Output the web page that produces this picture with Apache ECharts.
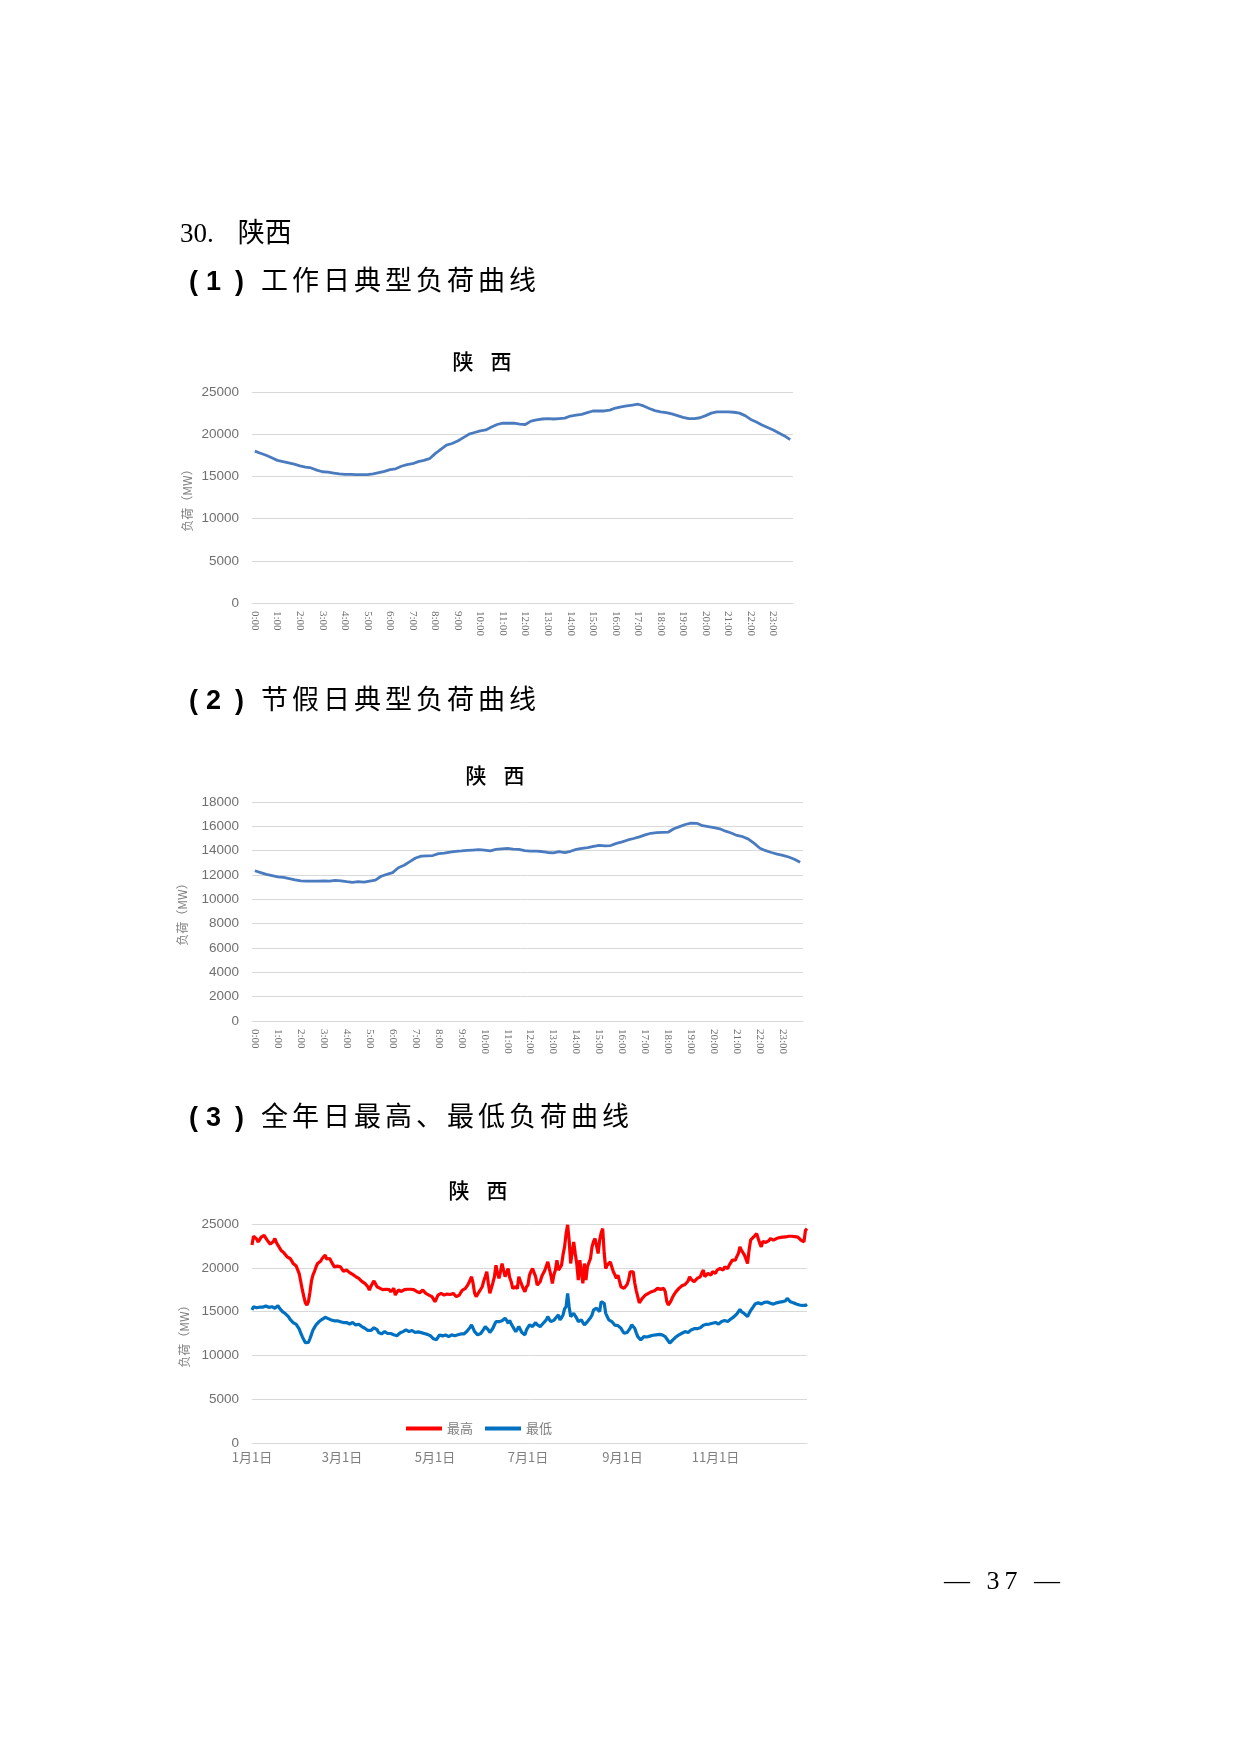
<!DOCTYPE html>
<html lang="zh">
<head>
<meta charset="UTF-8">
<title>陕西 负荷曲线</title>
<script src="https://cdn.jsdelivr.net/npm/echarts@6/dist/echarts.min.js"></script>
<style>
  html, body { margin: 0; padding: 0; background: #fff; }
  #page { position: relative; width: 1240px; height: 1754px; overflow: hidden; }
  #main { position: absolute; left: 0; top: 0; width: 1240px; height: 1754px; }
  .txt { position: absolute; white-space: nowrap; color: #000; z-index: 2; }
  .h1 { font-family: "Liberation Serif", "Noto Sans CJK SC", serif; font-size: 27px; line-height: 27px; }
  .h2 { font-family: "Noto Sans CJK SC", sans-serif; font-size: 27px; line-height: 27px; letter-spacing: 4px; }
  .h2 .no { font-family: "Liberation Sans", sans-serif; font-weight: bold; letter-spacing: 0; }
  .pg { font-family: "Liberation Serif", serif; font-size: 26px; line-height: 26px; letter-spacing: 5px; }
</style>
</head>
<body>
<div id="page">
  <div id="main"></div>
  <div class="txt h1" style="left:180px; top:220px;">30.<span style="margin-left:24px;">陕西</span></div>
  <div class="txt h2" style="left:189px; top:265px;"><span class="no" style="margin-right:8px">(</span><span class="no" style="margin-right:14px">1</span><span class="no" style="margin-right:17px">)</span>工作日典型负荷曲线</div>
  <div class="txt h2" style="left:189px; top:684px;"><span class="no" style="margin-right:8px">(</span><span class="no" style="margin-right:14px">2</span><span class="no" style="margin-right:17px">)</span>节假日典型负荷曲线</div>
  <div class="txt h2" style="left:189px; top:1101px;"><span class="no" style="margin-right:8px">(</span><span class="no" style="margin-right:14px">3</span><span class="no" style="margin-right:17px">)</span>全年日最高、最低负荷曲线</div>
  <div class="txt pg" style="left:944px; top:1568px;">— 37 —</div>
</div>
<script type="text/javascript">
    // 工作日典型负荷 (96 points, 15 min)
    var workdayLoad = [
        18000, 17750, 17500, 17200, 16900, 16750, 16600, 16450, 16250, 16100,
        16000, 15750, 15550, 15500, 15400, 15300, 15250, 15250, 15200, 15200,
        15200, 15300, 15450, 15600, 15800, 15900, 16200, 16400, 16500, 16750,
        16900, 17100, 17700, 18200, 18700, 18900, 19200, 19600, 20000, 20200,
        20400, 20500, 20850, 21150, 21300, 21300, 21300, 21200, 21150, 21550,
        21700, 21800, 21850, 21800, 21850, 21900, 22150, 22250, 22350, 22550,
        22750, 22750, 22750, 22850, 23100, 23250, 23350, 23450, 23550, 23350,
        23050, 22800, 22650, 22550, 22400, 22200, 22000, 21850, 21850, 21950,
        22200, 22500, 22650, 22650, 22650, 22600, 22500, 22200, 21750, 21450,
        21100, 20800, 20500, 20150, 19800, 19350
    ];

    // 节假日典型负荷 (96 points, 15 min)
    var holidayLoad = [
        12350, 12200, 12050, 11950, 11850, 11800, 11700, 11600, 11520, 11500,
        11500, 11500, 11520, 11500, 11550, 11520, 11450, 11400, 11450, 11420,
        11500, 11580, 11900, 12050, 12200, 12600, 12800, 13100, 13400, 13550,
        13580, 13600, 13750, 13800, 13880, 13950, 13980, 14020, 14050, 14080,
        14050, 13980, 14100, 14150, 14180, 14130, 14100, 14000, 13970, 13960,
        13930, 13850, 13820, 13920, 13840, 13950, 14100, 14180, 14250, 14350,
        14430, 14400, 14420, 14600, 14720, 14880, 15000, 15130, 15300, 15430,
        15480, 15500, 15520, 15800, 15980, 16150, 16270, 16250, 16050, 15980,
        15900, 15800, 15600, 15450, 15250, 15150, 14950, 14600, 14200, 14000,
        13850, 13720, 13620, 13480, 13300, 13050
    ];

    // 全年日最高负荷 (365 days)
    var dailyMax = [
        22600, 23600, 23700, 23300, 22950, 23200, 23500, 23600, 23700, 23400,
        23150, 23000, 22700, 22580, 23000, 23340, 22900, 22580, 22300, 22010,
        21850, 21700, 21500, 21250, 21150, 21060, 20800, 20490, 20350, 20200,
        20110, 19300, 18400, 17500, 16700, 16000, 15750, 16130, 17200, 18500,
        19200, 19600, 20100, 20490, 20600, 20750, 21060, 21200, 21440, 21000,
        20870, 21060, 20700, 20490, 20100, 19920, 20190, 20150, 20110, 19900,
        19600, 19550, 19740, 19600, 19450, 19360, 19250, 19170, 19000, 18850,
        18790, 18600, 18450, 18300, 18220, 18000, 17840, 17460, 17900, 18220,
        18500, 18600, 17840, 17750, 17650, 17600, 17500, 17460, 17550, 17650,
        17500, 17270, 17450, 17650, 16890, 17200, 17460, 17400, 17300, 17270,
        17500, 17650, 17550, 17460, 17550, 17650, 17500, 17380, 17300, 17200,
        17160, 17300, 17460, 17250, 17080, 17000, 16890, 16800, 16700, 16500,
        16130, 16500, 16890, 17080, 17080, 16890, 16890, 17080, 17000, 16890,
        16950, 17050, 17080, 16900, 16700, 16800, 16890, 17200, 17460, 17550,
        17650, 17900, 18200, 18410, 18980, 18220, 17100, 16700, 17000, 17270,
        17550, 17840, 18500, 19000, 19550, 18220, 17080, 17270, 18300, 18980,
        20300, 19360, 18790, 19600, 20490, 19700, 18980, 19500, 19920, 18900,
        18410, 17650, 17750, 17840, 17600, 18980, 18500, 18030, 17600, 17270,
        17800, 18030, 19170, 19600, 19920, 20110, 19000, 18030, 18200, 18410,
        19000, 19360, 19700, 19920, 20680, 19900, 19170, 18220, 19200, 19740,
        20870, 19740, 20000, 20300, 21500, 22390, 23900, 24900, 23150, 20490,
        21800, 22960, 21630, 20490, 18600, 20870, 19500, 18220, 20490, 18600,
        20110, 20600, 21060, 22390, 23000, 23340, 23520, 21630, 23150, 24000,
        24470, 21630, 19920, 20300, 20490, 20680, 20100, 19550, 19200, 18790,
        19170, 18500, 17840, 17750, 17650, 17650, 18100, 18600, 19550, 19740,
        19550, 18300, 17400, 16700, 16000, 15940, 16510, 16700, 16890, 17000,
        17080, 17150, 17270, 17300, 17380, 17450, 17650, 17600, 17540, 17540,
        17650, 17300, 16200, 15750, 16000, 16300, 16700, 17000, 17250, 17460,
        17650, 17840, 17950, 18030, 18100, 18140, 18500, 18980, 18700, 18600,
        18410, 18600, 18790, 18900, 18980, 19400, 19740, 18980, 19200, 19360,
        19250, 19170, 19550, 19450, 19360, 19740, 19800, 19920, 19800, 19740,
        20110, 20000, 19920, 20300, 20490, 20870, 20870, 20870, 21300, 21630,
        22390, 22000, 21820, 21440, 21000, 20490, 22010, 23150, 23300, 23520,
        23700, 23900, 23340, 22800, 22390, 23000, 23150, 22900, 22770, 23100,
        23340, 23200, 23150, 23250, 23340, 23400, 23450, 23450, 23500, 23520,
        23520, 23520, 23600, 23710, 23600, 23520, 23550, 23600, 23500, 23300,
        23150, 23000, 22960, 24280, 24470
    ];

    // 全年日最低负荷 (365 days)
    var dailyMin = [
        15190, 15560, 15380, 15450, 15560, 15500, 15450, 15500, 15600, 15640,
        15550, 15490, 15520, 15560, 15450, 15380, 15550, 15680, 15400, 15190,
        15000, 14890, 14750, 14620, 14400, 14120, 13950, 13750, 13650, 13550,
        13480, 13000, 12530, 12150, 11780, 11450, 11320, 11470, 11900, 12400,
        12900, 13200, 13480, 13700, 13860, 14000, 14120, 14250, 14350, 14430,
        14200, 14120, 14050, 14050, 13950, 13860, 13950, 14050, 13850, 13670,
        13750, 13860, 13750, 13650, 13590, 13680, 13750, 13600, 13480, 13520,
        13560, 13400, 13290, 13200, 13100, 13000, 12850, 12720, 12850, 12990,
        13150, 13290, 12950, 12610, 12550, 12460, 12600, 12720, 12650, 12500,
        12460, 12500, 12530, 12350, 12150, 12250, 12340, 12550, 12650, 12720,
        12850, 12910, 12800, 12720, 12780, 12840, 12700, 12610, 12650, 12680,
        12680, 12600, 12530, 12500, 12460, 12400, 12340, 12250, 12080, 11900,
        11700, 11800, 11960, 12340, 12530, 12230, 12300, 12340, 12250, 12150,
        12250, 12340, 12340, 12250, 12150, 12350, 12530, 12450, 12340, 12450,
        12610, 12750, 12910, 13200, 13480, 13100, 12720, 12500, 12340, 12340,
        12500, 12720, 13000, 13290, 13100, 12910, 12610, 12800, 13100, 13500,
        13860, 13670, 13850, 14050, 13950, 13860, 14240, 14000, 13670, 13980,
        13600, 13290, 13000, 12720, 13000, 13290, 12950, 12610, 12450, 12340,
        12910, 13200, 13480, 13400, 13290, 13500, 13750, 13500, 13290, 13290,
        13500, 13670, 13850, 14050, 14430, 14100, 13860, 13670, 14000, 14240,
        14450, 14620, 14050, 14300, 14620, 15300, 15560, 17080, 15560, 14430,
        14600, 14810, 14500, 14240, 13860, 13950, 14050, 13750, 13480, 13670,
        13860, 14050, 14300, 14620, 15190, 15300, 15380, 15200, 15000, 16130,
        16000, 15940, 14800, 14430, 14050, 13950, 13860, 13670, 13450, 13290,
        13400, 13480, 13100, 12800, 12530, 12570, 12610, 12850, 13100, 13480,
        13670, 13100, 12600, 12150, 11950, 11780, 11950, 12150, 12150, 12100,
        12080, 12200, 12340, 12300, 12230, 12350, 12460, 12400, 12340, 12340,
        12250, 12150, 11900, 11780, 11400, 11600, 11780, 11960, 12100, 12250,
        12340, 12450, 12530, 12600, 12720, 12650, 12610, 12750, 12910, 13000,
        13050, 13100, 13050, 12990, 13150, 13290, 13450, 13670, 13550, 13480,
        13580, 13670, 13670, 13700, 13750, 13650, 13590, 13700, 13860, 13900,
        13980, 13950, 13860, 14000, 14150, 14240, 14400, 14510, 14750, 15000,
        15260, 15000, 14810, 14750, 14730, 14430, 14800, 15110, 15350, 15560,
        15870, 15950, 16020, 15950, 15870, 15950, 16050, 16090, 16100, 16130,
        15950, 15750, 15850, 15940, 16000, 16020, 16080, 16130, 16130, 16200,
        16250, 16510, 16300, 16130, 16080, 16020, 15950, 15870, 15800, 15750,
        15750, 15700, 15640, 15700, 15830
    ];

    var monthDays = [31, 28, 31, 30, 31, 30, 31, 31, 30, 31, 30, 31];
    var dateLabelMonths = [1, 3, 5, 7, 9, 11];

    // 时间刻度 0:00 ~ 23:45
    var timeCats = [];
    for (var i = 0; i < 96; i++) {
        var h = Math.floor(i / 4), m = (i % 4) * 15;
        timeCats.push(h + ':' + (m < 10 ? '0' + m : m));
    }
    // 日期 1月1日 ~ 12月31日
    var dateCats = [];
    for (var mo = 0; mo < 12; mo++) {
        for (var d = 1; d <= monthDays[mo]; d++) {
            dateCats.push((mo + 1) + '月' + d + '日');
        }
    }

    var gray = '#6f6f6f';
    var lightGray = '#808080';
    var gridColor = '#d9d9d9';
    var lineBlue = '#4a7bbf';

    function yAxisOf(gridIndex, max, interval, gap) {
        return {
            gridIndex: gridIndex, type: 'value', min: 0, max: max, interval: interval,
            name: '负荷（MW）', nameLocation: 'middle', nameRotate: 90, nameGap: gap,
            nameTextStyle: { color: lightGray, fontSize: 12, fontFamily: 'Noto Sans CJK SC' },
            axisLine: { show: false }, axisTick: { show: false },
            axisLabel: {
                color: gray, fontSize: 13.5, margin: 13, fontFamily: 'Liberation Sans',
                formatter: function (v) { return String(v); }
            },
            splitLine: { lineStyle: { color: gridColor, width: 1 } }
        };
    }
    function timeAxisOf(gridIndex) {
        return {
            gridIndex: gridIndex, type: 'category', data: timeCats, boundaryGap: true,
            axisLine: { lineStyle: { color: gridColor } }, axisTick: { show: false },
            axisLabel: {
                color: gray, fontSize: 11, rotate: -90, margin: 8, interval: 3,
                fontFamily: 'Liberation Serif'
            }
        };
    }
    function titleOf(x, y) {
        var st = { color: '#000', fontSize: 21, fontWeight: 500, fontFamily: 'Noto Sans CJK SC' };
        return {
            text: '{a|陕}{b|西}', left: x, top: y, textAlign: 'center',
            textStyle: {
                rich: {
                    a: Object.assign({ padding: [0, 17, 0, 0] }, st),
                    b: st
                }
            }
        };
    }

    var myChart = echarts.init(document.getElementById('main'));
    var option = {
        animation: false,
        title: [titleOf(477, 346), titleOf(490, 760), titleOf(473, 1175)],
        legend: {
            data: ['最高', '最低'], left: 401, top: 1417, icon: 'rect',
            itemWidth: 36, itemHeight: 4, itemGap: 12,
            textStyle: { color: lightGray, fontSize: 13, fontFamily: 'Noto Sans CJK SC' }
        },
        grid: [
            { left: 252, top: 392, width: 541, height: 211 },
            { left: 252, top: 802, width: 551, height: 219 },
            { left: 252, top: 1224, width: 555, height: 219 }
        ],
        xAxis: [
            timeAxisOf(0),
            timeAxisOf(1),
            {
                gridIndex: 2, type: 'category', data: dateCats, boundaryGap: false,
                axisLine: { lineStyle: { color: gridColor } }, axisTick: { show: false },
                axisLabel: {
                    color: lightGray, fontSize: 13, margin: 8, fontFamily: 'Noto Sans CJK SC',
                    interval: function (idx, val) {
                        return /月1日$/.test(val) && dateLabelMonths.indexOf(parseInt(val, 10)) >= 0;
                    }
                }
            }
        ],
        yAxis: [
            yAxisOf(0, 25000, 5000, 59),
            yAxisOf(1, 18000, 2000, 64),
            yAxisOf(2, 25000, 5000, 62)
        ],
        series: [
            { name: '工作日', type: 'line', xAxisIndex: 0, yAxisIndex: 0, data: workdayLoad,
              showSymbol: false, lineStyle: { color: lineBlue, width: 2.8 } },
            { name: '节假日', type: 'line', xAxisIndex: 1, yAxisIndex: 1, data: holidayLoad,
              showSymbol: false, lineStyle: { color: lineBlue, width: 2.8 } },
            { name: '最高', type: 'line', xAxisIndex: 2, yAxisIndex: 2, data: dailyMax,
              showSymbol: false, itemStyle: { color: '#ff0000' }, lineStyle: { color: '#ff0000', width: 3.2 } },
            { name: '最低', type: 'line', xAxisIndex: 2, yAxisIndex: 2, data: dailyMin,
              showSymbol: false, itemStyle: { color: '#0070c0' }, lineStyle: { color: '#0070c0', width: 3.2 } }
        ]
    };
    myChart.setOption(option);
</script>
</body>
</html>
